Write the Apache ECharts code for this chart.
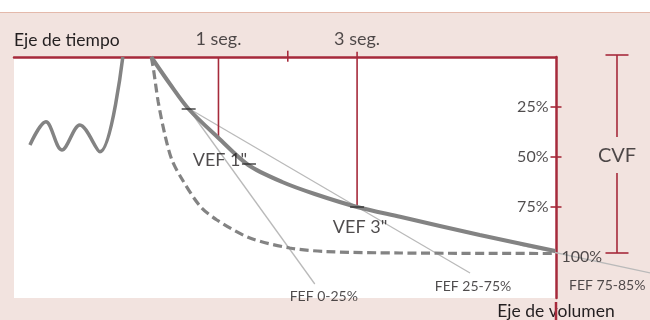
<!DOCTYPE html>
<html>
<head>
<meta charset="utf-8">
<script src="https://cdn.jsdelivr.net/npm/echarts@6/dist/echarts.min.js"></script>
<style>
  html, body { margin: 0; padding: 0; background: #ffffff; }
  #chart { width: 650px; height: 320px; }
</style>
</head>
<body>
<div id="chart"></div>
<script>
// Forced spirometry: exhaled volume (% of CVF) against time (s)

// axis ranges
const timeMin = -1.95, timeMax = 5.87;
const volMin = 0, volMax = 122.5, volAxisEnd = 131.5;

// tidal breathing before the forced manoeuvre
const tidalT = [-1.72, -1.49, -1.26, -1.00, -0.71, -0.38];
const tidalV = [44, 32.4, 46.5, 34, 47.4, 0];

// forced expiration (solid)
const forcedT = [0.03, 0.30, 0.57, 1.00, 1.43, 1.92, 2.39, 3.00, 3.62, 4.77, 5.86];
const forcedV = [0, 13.5, 26, 40.5, 54, 62.5, 68.5, 75, 79.9, 89, 97];

// reference expiration (dashed)
const normalT = [0.03, 0.062, 0.131, 0.228, 0.329, 0.473, 0.733, 0.978, 1.454, 2.031, 2.536, 3.618, 5.855];
const normalV = [0, 6, 22.5, 39, 51.5, 61, 74.5, 81.5, 90.5, 95.5, 97.25, 98, 98.25];

// flow tangents
const fefNames = ['FEF 0-25%', 'FEF 25-75%', 'FEF 75-85%'];
const fefT0 = [0.03, 0.56, 5.35];
const fefV0 = [0, 25.5, 94];
const fefT1 = [2.39, 4.63, 7.23];
const fefV1 = [113.5, 108, 108];

// points marked on the forced curve
const markT = [0.57, 1.44, 3.00];
const markV = [26, 53.5, 75];
const markNames = ['', 'VEF 1"', 'VEF 3"'];

// time marks
const secT = [1, 2, 3];
const secLabels = ['1 seg.', '', '3 seg.'];
const secTop = [0, -3.15, -2.65];
const secBottom = [40.5, 2.35, 75];

// volume marks
const volTicks = [25, 50, 75];
const volLabels = ['25%', '50%', '75%', '100%'];
const volFull = 100;

// CVF bracket
const cvfT = 6.75;
const cvfTop = -1, cvfBottom = 98;
const cvfGapTop = 40, cvfGapBottom = 58;
const cvfLabel = 'CVF';

const RED = '#a62a3b';
const GREY = '#838383';
const LIGHT = '#bababa';
const INK = '#231f20';
const FONT = 'Lato';
const CAP = 0.166;

// plot frame (pixels) and matching full-canvas overlay scale
const W = 650, H = 320;
const FRAME = { left: 14, right: 94, top: 57, bottom: 18 };
const pxT = (W - FRAME.left - FRAME.right) / (timeMax - timeMin);
const pxV = (H - FRAME.top - FRAME.bottom) / (volMax - volMin);

function zip(a, b) { return a.map((x, i) => [x, b[i]]); }

function seg(pts, color, width, extra) {
  return Object.assign({
    type: 'line', data: pts, symbol: 'none', silent: true, clip: false,
    xAxisIndex: 1, yAxisIndex: 1,
    animation: false, lineStyle: { color: color, width: width }, z: 3
  }, extra || {});
}

function textSeries(pts, formatter, label, z) {
  return {
    type: 'scatter', data: pts, symbol: 'circle', symbolSize: 1, clip: false,
    xAxisIndex: 1, yAxisIndex: 1,
    silent: true, animation: false, z: z || 6,
    itemStyle: { color: 'rgba(0,0,0,0)' },
    label: Object.assign({ show: true, formatter: formatter, color: INK, fontFamily: FONT }, label)
  };
}

const series = [];

// tangents
fefNames.forEach((n, i) => {
  series.push(seg([[fefT0[i], fefV0[i]], [fefT1[i], fefV1[i]]], LIGHT, 1.3, { z: 2 }));
});

// time lines
secT.forEach((t, i) => {
  series.push(seg([[t, secTop[i]], [t, secBottom[i]]], RED, 1.6, { z: 2 }));
});

// volume axis continues through the lower band
series.push(seg([[timeMax, volMax], [timeMax, volAxisEnd]], RED, 2.5));

// CVF bracket
series.push(seg([[cvfT, cvfTop], [cvfT, cvfGapTop]], RED, 1.6));
series.push(seg([[cvfT, cvfGapBottom], [cvfT, cvfBottom]], RED, 1.6));
series.push(seg([[cvfT - CAP, cvfTop], [cvfT + CAP, cvfTop]], RED, 1.6));
series.push(seg([[cvfT - CAP, cvfBottom], [cvfT + CAP, cvfBottom]], RED, 1.6));

// curves
series.push(seg(zip(tidalT, tidalV), GREY, 3.5, { smooth: 0.35, z: 4 }));
series.push(seg(zip(normalT, normalV), GREY, 3.2, { smooth: 0.3, z: 4,
  lineStyle: { color: GREY, width: 3.2, type: [9, 4.5] } }));
series.push(seg(zip(forcedT, forcedV), GREY, 4, { smooth: 0.3, z: 5 }));

// short marks on the forced curve, with VEF labels
series.push({
  type: 'scatter', data: zip(markT, markV), symbol: 'rect', symbolSize: [14, 1.6],
  xAxisIndex: 1, yAxisIndex: 1,
  clip: false, silent: true, animation: false, z: 7,
  itemStyle: { color: '#2a2a2a' },
  label: {
    show: true, position: 'inside', color: INK, fontFamily: FONT, fontSize: 18,
    formatter: p => markNames[p.dataIndex]
  },
  labelLayout: p => (p.dataIndex === 1 ? { dx: -29, dy: -4 } : { dx: 3, dy: 20 })
});

// tangent labels
series.push(textSeries(zip(fefT1, fefV1), p => fefNames[p.dataIndex],
  { position: 'inside', fontSize: 14 }));
series[series.length - 1].labelLayout = p => {
  const d = [[9, 12.5], [3, 13.7], [-43, 12]][p.dataIndex];
  return { dx: d[0], dy: d[1] };
};

// volume ticks
series.push({
  type: 'scatter', data: volTicks.map(v => [timeMax, v]), symbol: 'rect',
  xAxisIndex: 1, yAxisIndex: 1,
  symbolSize: [11, 2], clip: false, silent: true, animation: false, z: 6,
  itemStyle: { color: RED },
  label: { show: true, position: 'left', distance: 2, color: INK, fontFamily: FONT, fontSize: 16,
    formatter: p => volLabels[p.dataIndex] }
});
series.push(textSeries([[timeMax, volFull]], () => volLabels[3],
  { position: 'right', distance: 5, fontSize: 16 }));

// time labels
series.push(textSeries(secT.map(t => [t, 0]), p => secLabels[p.dataIndex],
  { position: 'top', distance: 8, fontSize: 18 }));

// CVF label
series.push(textSeries([[cvfT, (cvfTop + cvfBottom) / 2]], () => cvfLabel,
  { position: 'inside', fontSize: 20, offset: [0, 2] }));

const hidden = { show: false };
const chart = echarts.init(document.getElementById('chart'), null, { renderer: 'canvas' });
chart.setOption({
  animation: false,
  backgroundColor: '#f2e3df',
  graphic: [
    { type: 'rect', shape: { x: 0, y: 0, width: W, height: 12 }, style: { fill: '#ffffff' }, silent: true },
    { type: 'line', shape: { x1: 0, y1: 12.5, x2: W, y2: 12.5 }, style: { stroke: '#e4b9ab', lineWidth: 1 }, silent: true }
  ],
  grid: [
    Object.assign({ show: true, backgroundColor: '#ffffff', borderWidth: 0 }, FRAME),
    { left: 0, right: 0, top: 0, bottom: 0, show: false }
  ],
  xAxis: [{
    gridIndex: 0, type: 'value', position: 'top', min: timeMin, max: timeMax,
    name: 'Eje de tiempo', nameLocation: 'start', nameGap: 0,
    nameTextStyle: { color: INK, fontFamily: FONT, fontSize: 17.5, align: 'left', verticalAlign: 'bottom', padding: [0, 0, 8, 0] },
    axisLine: { show: true, onZero: false, lineStyle: { color: RED, width: 2.5 } },
    axisTick: hidden, axisLabel: hidden, splitLine: hidden
  }, {
    gridIndex: 1, type: 'value', show: false,
    min: timeMin - FRAME.left / pxT, max: timeMax + FRAME.right / pxT,
    splitLine: hidden
  }],
  yAxis: [{
    gridIndex: 0, type: 'value', position: 'right', inverse: true, min: volMin, max: volMax,
    name: 'Eje de volumen', nameLocation: 'end', nameGap: 4,
    nameTextStyle: { color: INK, fontFamily: FONT, fontSize: 17.5, align: 'center', verticalAlign: 'top' },
    axisLine: { show: true, onZero: false, lineStyle: { color: RED, width: 2.5 } },
    axisTick: hidden, axisLabel: hidden, splitLine: hidden
  }, {
    gridIndex: 1, type: 'value', show: false, inverse: true,
    min: volMin - FRAME.top / pxV, max: volMax + FRAME.bottom / pxV,
    splitLine: hidden
  }],
  series: series
});
</script>
</body>
</html>
